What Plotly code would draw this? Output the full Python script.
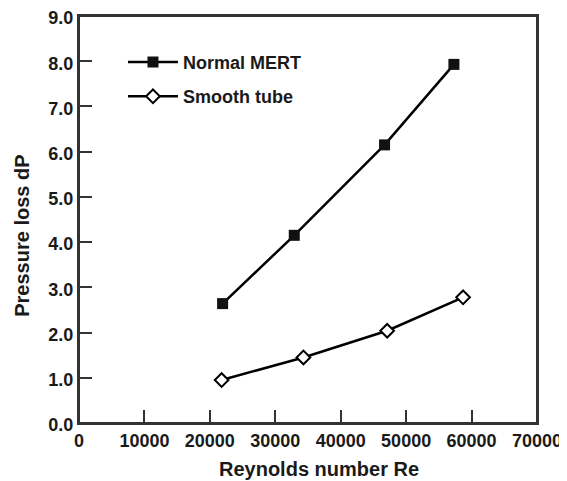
import plotly.graph_objects as go

re_mert = [21950, 32900, 46700, 57300]
dp_mert = [2.64, 4.15, 6.15, 7.93]
re_smooth = [21800, 34300, 47100, 58700]
dp_smooth = [0.95, 1.45, 2.04, 2.78]

x_ticks = [0, 10000, 20000, 30000, 40000, 50000, 60000, 70000]
y_ticks = [0, 1, 2, 3, 4, 5, 6, 7, 8, 9]
y_tick_text = ["%.1f" % v for v in y_ticks]

x_title = "Reynolds number Re"
y_title = "Pressure loss dP"

font = "Liberation Sans, Arial, sans-serif"
ink = "#1a1a1a"
frame = "#333333"

fig = go.Figure()
fig.add_trace(go.Scatter(
    x=re_mert, y=dp_mert, mode="lines+markers", name="Normal MERT",
    legendgroup="a",
    line=dict(color="black", width=2.5),
    marker=dict(symbol="square", size=11, color="#111111", line=dict(color="#111111", width=0)),
))
fig.add_trace(go.Scatter(
    x=re_smooth, y=dp_smooth, mode="lines+markers", name="Smooth tube",
    legendgroup="b",
    line=dict(color="black", width=2.5),
    marker=dict(symbol="diamond", size=10.5, color="white", line=dict(color="black", width=2)),
))

axis_common = dict(
    showline=True, linecolor=frame, linewidth=2, mirror=True,
    ticks="inside", ticklen=13, tickwidth=2, tickcolor=frame,
    showgrid=False, zeroline=False, automargin=False,
    ticklabeloverflow="allow",
    tickfont=dict(family=font, size=18, color=ink, weight="bold"),
)

fig.update_xaxes(
    range=[0, 70000], tickvals=x_ticks, ticktext=[str(v) for v in x_ticks],
    **axis_common,
)
fig.update_yaxes(
    range=[0, 9], tickvals=y_ticks, ticktext=y_tick_text, ticklabelshift=2,
    **axis_common,
)

# plot frame
fig.add_shape(
    type="rect", xref="paper", yref="paper", x0=0, x1=1, y0=0, y1=1,
    line=dict(color=frame, width=2), fillcolor="rgba(0,0,0,0)", layer="above",
)

title_font = dict(family=font, size=20, color=ink, weight="bold")
fig.add_annotation(
    text=x_title, xref="paper", yref="paper", x=0.523, y=-0.113,
    xanchor="center", yanchor="middle", showarrow=False, font=title_font,
)
fig.add_annotation(
    text=y_title, xref="paper", yref="paper", x=-0.1245, y=0.46,
    xanchor="center", yanchor="middle", showarrow=False, textangle=-90,
    font=title_font,
)

fig.update_layout(
    width=567, height=481,
    margin=dict(l=71, r=38, t=8, b=66),
    paper_bgcolor="white", plot_bgcolor="white",
    showlegend=True,
    legend=dict(
        x=0.096, y=0.932, xanchor="left", yanchor="top",
        bgcolor="rgba(0,0,0,0)", itemwidth=50, tracegroupgap=8,
        font=dict(family=font, size=18, color=ink, weight="bold"),
    ),
)

fig.write_html("out.html")
